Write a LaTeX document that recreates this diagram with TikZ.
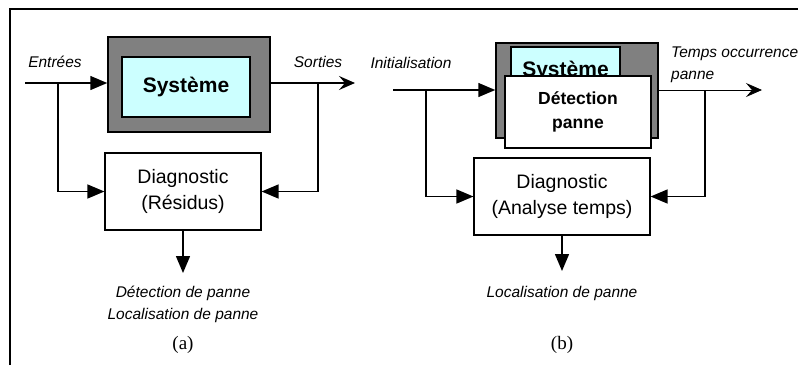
\documentclass[tikz,border=0pt]{standalone}
\usepackage{fontspec}
\setmainfont{Liberation Serif}
\setsansfont{Liberation Sans}
\usepackage{tikz}
\usetikzlibrary{positioning, arrows.meta}
\definecolor{sysgray}{RGB}{128,128,128}
\definecolor{syscyan}{RGB}{204,255,255}
\tikzset{
outerbox/.style={
    draw,
    line width=1.5pt,
    fill=sysgray,
    inner sep=0pt
},
innerbox/.style={
    draw,
    line width=1.5pt,
    fill=syscyan,
    inner sep=0pt,
    font=\sffamily\bfseries\fontsize{21}{24}\selectfont
},
diagbox/.style={
    draw,
    line width=1.2pt,
    fill=white,
    inner sep=0pt,
    align=center,
    font=\sffamily\fontsize{19.5}{26}\selectfont
},
sig/.style={
    font=\sffamily\itshape\fontsize{15.5}{22}\selectfont,
    inner sep=0pt,
    align=center
},
caption/.style={
    font=\fontsize{19}{22}\selectfont,
    inner sep=0pt
},
flow/.style={
    line width=1.5pt,
    -{Triangle[length=17pt,width=14pt]}
},
outflow/.style={
    line width=1.3pt,
    -{Stealth[length=16pt,width=14pt,inset=6pt]}
}
}

\begin{document}
\begin{tikzpicture}[x=1pt, y=-1pt]
\useasboundingbox (0,0) rectangle (798,365);

% FRAME
\draw[line width=1.5pt] (10,365) -- (10,9) -- (798,9);

% (a): RESIDUS
\node[outerbox, minimum width=162pt, minimum height=95pt] (sysa) at (189,84.5) {};
\node[innerbox, minimum width=128pt, minimum height=60pt] (sysain) at (186,87) {Système};
\node[diagbox, minimum width=156pt, minimum height=77pt] (diaga) at (183,191.5) {Diagnostic\\(Résidus)};

\coordinate (ina) at (25,83);
\coordinate (outa) at (355,83);
\coordinate (resa) at (183,273);
\coordinate (bina) at (58,83);
\coordinate (bouta) at (318,83);

\draw[flow] (ina) -- (ina -| sysa.west);
\draw[line width=1.5pt] (sysa.east |- outa) -- (bouta);
\draw[outflow] (bouta) -- (outa);
\draw[flow] (bina) |- (diaga.west);
\draw[flow] (bouta) |- (diaga.east);
\draw[flow] (diaga.south) -- (resa);

\node[sig] (entrees) at (55,62) {Entrées};
\node[sig] (sorties) at (318,62) {Sorties};
\node[sig] (resultsa) at (183,304) {Détection de panne\\Localisation de panne};
\node[caption] (capa) at (183,345) {(a)};

% (b): ANALYSE TEMPS
\node[outerbox, minimum width=162pt, minimum height=95pt] (sysb) at (577,90.5) {};
\node[innerbox, minimum width=109pt, minimum height=56pt, anchor=north] (sysbin) at (565.5,46) {};
\node[font=\sffamily\bfseries\fontsize{21}{24}\selectfont] (sysbtext) at (565.5,71) {Système};
\node[diagbox, font=\sffamily\bfseries\fontsize{17.5}{24}\selectfont,
    minimum width=146pt, minimum height=72pt] (detb) at (578,112) {Détection\\panne};
\node[diagbox, minimum width=176pt, minimum height=77pt] (diagb) at (562,196.5) {Diagnostic\\(Analyse temps)};

\coordinate (inb) at (393,90);
\coordinate (outb) at (762,90);
\coordinate (resb) at (562,271);
\coordinate (binb) at (426,90);
\coordinate (boutb) at (705,90);

\draw[flow] (inb) -- (inb -| sysb.west);
\draw[line width=0.8pt, -{Stealth[length=16pt,width=14pt,inset=6pt]}] (sysb.east |- outb) -- (outb);
\draw[flow] (binb) |- (diagb.west);
\draw[flow] (boutb) |- (diagb.east);
\draw[flow] (diagb.south) -- (resb);

\node[sig] (init) at (411,63) {Initialisation};
\node[sig, align=left, anchor=west] (temps) at (671,65) {Temps occurrence\\panne};
\node[sig] (resultsb) at (562,293) {Localisation de panne};
\node[caption] (capb) at (562,345) {(b)};

\end{tikzpicture}
\end{document}
